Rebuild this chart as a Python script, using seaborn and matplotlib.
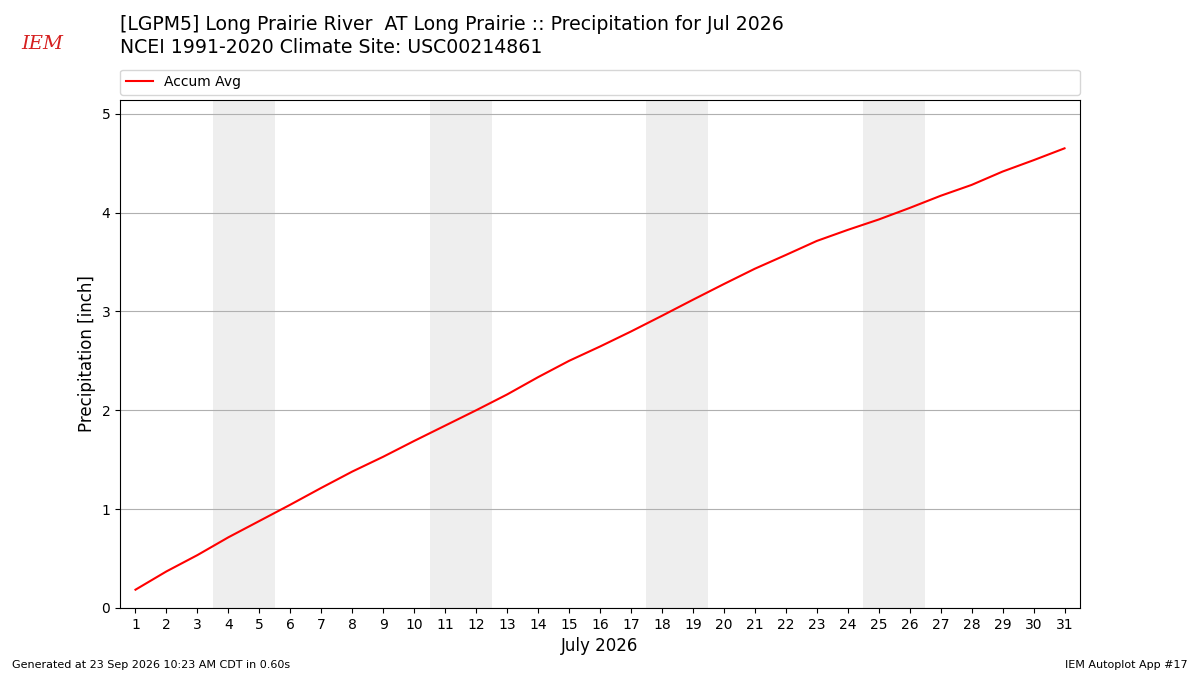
import matplotlib
matplotlib.use("Agg")
import matplotlib.pyplot as plt
import seaborn as sns
import pandas as pd

days = list(range(1, 32))
accum_avg = [0.185, 0.37, 0.535, 0.715, 0.88, 1.045, 1.215, 1.38, 1.53, 1.69,
             1.845, 2.0, 2.16, 2.335, 2.5, 2.645, 2.797, 2.956, 3.118, 3.277,
             3.432, 3.571, 3.713, 3.825, 3.93, 4.047, 4.17, 4.28, 4.415, 4.53, 4.65]
weekend_starts = [4, 11, 18, 25]

title_line1 = "[LGPM5] Long Prairie River  AT Long Prairie :: Precipitation for Jul 2026"
title_line2 = "NCEI 1991-2020 Climate Site: USC00214861"

df = pd.DataFrame({"day": days, "Accum Avg": accum_avg})

fig = plt.figure(figsize=(12, 6.75), dpi=100)
ax = fig.add_axes([0.1, 0.0993, 0.8, 0.7527])

for s in weekend_starts:
    ax.axvspan(s - 0.5, s + 1.5, color="#eeeeee", zorder=0, lw=0)

sns.lineplot(data=df, x="day", y="Accum Avg", color="red", ax=ax, label="Accum Avg", lw=1.5, zorder=3)

ax.set_xlim(0.5, 31.5)
ax.set_ylim(0, 5.14)
ax.set_xticks(days)
ax.set_xticklabels([str(d) for d in days], fontsize=10)
ax.set_yticks([0, 1, 2, 3, 4, 5])
ax.tick_params(axis="y", labelsize=10)
ax.yaxis.grid(True, color="#b0b0b0", lw=0.8)
ax.set_axisbelow(True)
ax.set_xlabel("July 2026", fontsize=12)
ax.set_ylabel("Precipitation [inch]", fontsize=12)

ax.legend(loc="lower left", bbox_to_anchor=(0, 1.01, 1, 0.05), mode="expand",
          ncol=1, fontsize=10, borderaxespad=0, frameon=True)

fig.text(0.1, 0.963, title_line1, fontsize=13.6, va="center", ha="left")
fig.text(0.1, 0.930, title_line2, fontsize=13.6, va="center", ha="left")

fig.text(0.018, 0.935, "IEM", fontsize=14, color="#d62020", style="italic",
         family="DejaVu Serif", va="center", ha="left")

fig.text(0.01, 0.015, "Generated at 23 Sep 2026 10:23 AM CDT in 0.60s", fontsize=8, ha="left", va="center")
fig.text(0.99, 0.015, "IEM Autoplot App #17", fontsize=8, ha="right", va="center")

fig.savefig("out.png", dpi=100)
